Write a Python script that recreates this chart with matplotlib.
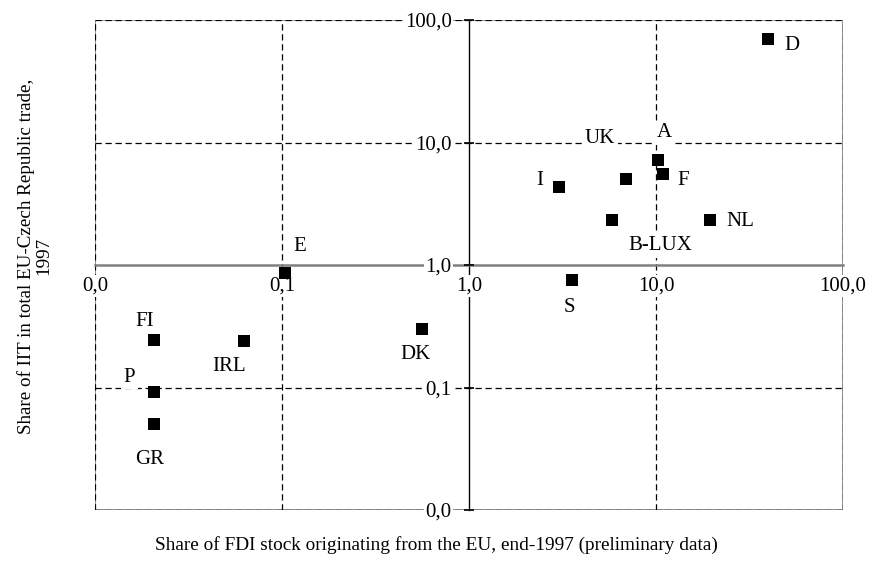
import matplotlib
matplotlib.use('Agg')
import matplotlib.pyplot as plt
from matplotlib.ticker import FixedLocator, FixedFormatter, NullLocator

# ---- data ----
countries = ['D', 'A', 'F', 'UK', 'I', 'B-LUX', 'NL', 'S', 'E', 'FI', 'P', 'GR', 'IRL', 'DK']
fdi_share = [39.7, 10.3, 10.9, 6.9, 3.03, 5.84, 19.4, 3.54, 0.104, 0.0208, 0.0208, 0.0208, 0.0624, 0.562]
iit_share = [70.0, 7.2, 5.5, 5.0, 4.3, 2.35, 2.35, 0.755, 0.865, 0.243, 0.0914, 0.0504, 0.238, 0.302]

tick_values = [0.01, 0.1, 1, 10, 100]
tick_labels = ['0,0', '0,1', '1,0', '10,0', '100,0']

xlabel = 'Share of FDI stock originating from the EU, end-1997 (preliminary data)'
ylabel = 'Share of IIT in total EU-Czech Republic trade,\n1997'

# label offsets in pixels (dx right, dy up) relative to the marker
label_offsets = {
    'D': (24, -7), 'A': (6, 27), 'F': (20, -6), 'UK': (-26, 41), 'I': (-19, 7),
    'B-LUX': (48, -26), 'NL': (30, -2), 'S': (-2, -28), 'E': (15, 26),
    'FI': (-10, 19), 'P': (-25, 15), 'GR': (-5, -36), 'IRL': (-15, -25), 'DK': (-7, -26),
}

plt.rcParams['font.family'] = ['Liberation Serif', 'DejaVu Serif']

W, H = 871, 563
fig = plt.figure(figsize=(W / 100, H / 100), dpi=100)
L, R, T, B = 95, 843, 20, 510
ax = fig.add_axes([L / W, (H - B) / H, (R - L) / W, (B - T) / H])
ax.set_xscale('log')
ax.set_yscale('log')
ax.set_xlim(0.01, 100)
ax.set_ylim(0.01, 100)

# frame (grey) + dashed black gridlines at decades
for s in ['top', 'right']:
    ax.spines[s].set_visible(False)
for v in [0.01, 100]:
    ax.axvline(v, color='#808080', lw=1.2, zorder=0.5)
    ax.axhline(v, color='#808080', lw=1.2, zorder=0.5)
for v in [0.01, 0.1, 10, 100]:
    ax.axvline(v, color='black', lw=0.9, ls=(0, (5, 3)), zorder=1)
    ax.axhline(v, color='black', lw=0.9, ls=(0, (5, 3)), zorder=1)

# crossing axes at (1, 1)
ax.spines['left'].set_position(('data', 1))
ax.spines['left'].set_color('black')
ax.spines['left'].set_linewidth(1.0)
ax.spines['bottom'].set_position(('data', 1))
ax.spines['bottom'].set_color('#808080')
ax.spines['bottom'].set_linewidth(1.8)

ax.xaxis.set_major_locator(FixedLocator(tick_values))
ax.xaxis.set_major_formatter(FixedFormatter(tick_labels))
ax.yaxis.set_major_locator(FixedLocator(tick_values))
ax.yaxis.set_major_formatter(FixedFormatter(tick_labels))
ax.xaxis.set_minor_locator(NullLocator())
ax.yaxis.set_minor_locator(NullLocator())
ax.tick_params(axis='x', length=0, pad=8, labelsize=15)
ax.tick_params(axis='y', direction='inout', length=7, width=1.2, pad=9, labelsize=15)

for t in ax.xaxis.get_major_ticks() + ax.yaxis.get_major_ticks():
    t.label1.set_bbox(dict(facecolor='white', edgecolor='none', pad=1))
ax.xaxis.set_zorder(3)
ax.yaxis.set_zorder(3)

# points
ax.scatter(fdi_share, iit_share, marker='s', s=8.3 ** 2, color='black', zorder=5, linewidths=0)
for name, x, y in zip(countries, fdi_share, iit_share):
    dx, dy = label_offsets[name]
    ax.annotate(name, (x, y), xytext=(dx, dy), textcoords='offset pixels',
                ha='center', va='center', fontsize=15, zorder=6,
                bbox=dict(facecolor='white', edgecolor='none', pad=2))

ax.text((436 - L) / (R - L), -(545 - B) / (B - T), xlabel, transform=ax.transAxes,
        ha='center', va='center', fontsize=13.9)
ax.text((35 - L) / (R - L), (B - 256) / (B - T), ylabel, transform=ax.transAxes,
        ha='center', va='center', rotation=90, fontsize=13.7, multialignment='center',
        linespacing=1.0)

fig.savefig('out.png', dpi=100, facecolor='white')
